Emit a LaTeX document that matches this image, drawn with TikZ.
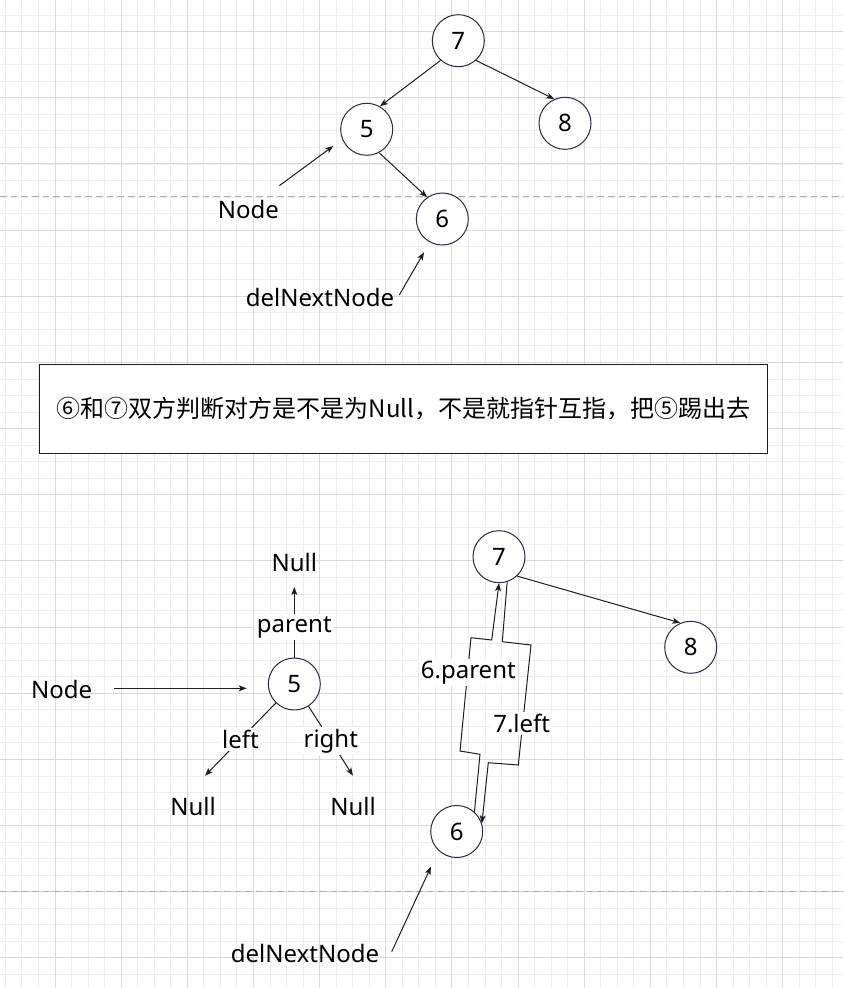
\documentclass[tikz,border=0pt]{standalone}
\usepackage{fontspec}
\setmainfont{Noto Sans}
\newfontfamily\cjkfont{Noto Sans CJK SC}
\usetikzlibrary{arrows.meta}
\definecolor{gminor}{RGB}{237,237,237}
\definecolor{gmajor}{RGB}{218,218,218}
\definecolor{circ}{RGB}{40,40,80}
\definecolor{lin}{RGB}{30,30,30}
\definecolor{dashc}{RGB}{175,175,175}
\tikzset{
 vtx/.style={circle, draw=circ, line width=0.75pt, minimum size=39pt, inner sep=0pt, fill=white, font=\fontsize{18pt}{22pt}\selectfont},
 txt/.style={inner sep=0pt, font=\fontsize{18pt}{22pt}\selectfont},
 nulltop/.style={txt, minimum height=36pt},
 nullbot/.style={txt, minimum height=45pt},
 lbl/.style={fill=white, inner sep=1.5pt, font=\fontsize{18pt}{22pt}\selectfont},
 arr/.style={draw=lin, line width=0.75pt, -{Stealth[length=6pt,width=4.5pt,inset=1.5pt]}},
 plainln/.style={draw=lin, line width=0.75pt},
 gridminor/.style={draw=gminor, line width=0.75pt},
 gridmajor/.style={draw=gmajor, line width=0.75pt},
 sep/.style={draw=dashc, line width=0.75pt, dash pattern=on 5pt off 3pt},
 infobox/.style={draw=lin, line width=0.75pt, fill=white, minimum width=546.3pt, minimum height=66.75pt, inner sep=0pt, font=\cjkfont\fontsize{18pt}{22pt}\selectfont},
}
\begin{document}
\begin{tikzpicture}[x=0.75pt,y=-0.75pt]
\useasboundingbox (0,0) rectangle (843,988);
\fill[white] (0,0) rectangle (843,988);
% grid
\foreach \i in {0,...,50} {\draw[gridminor] ({5.38+16.54*\i},0) -- ({5.38+16.54*\i},988);}
\foreach \i in {0,...,58} {\draw[gridminor] (0,{15.16+16.54*\i}) -- (843,{15.16+16.54*\i});}
\foreach \i in {0,...,11} {\draw[gridmajor] ({55+66.15*\i},0) -- ({55+66.15*\i},988);}
\foreach \i in {0,...,14} {\draw[gridmajor] (0,{31.7+66.15*\i}) -- (843,{31.7+66.15*\i});}
% separators
\draw[sep] (0,196) -- (843,196);
\draw[sep] (0,891) -- (843,891);

% ---------- top tree ----------
\node[vtx] (t7) at (458.3,40.7) {7};
\node[vtx] (t5) at (366.7,129.3) {5};
\node[vtx] (t8) at (565,123.3) {8};
\node[vtx] (t6) at (442.3,219) {6};
\draw[arr] (t7.-132) -- (t5.60);
\draw[arr] (t7.-48) -- (t8.114);
\draw[arr] (t5.-62) -- (t6.125);
\node[txt] (tNode) at (248.3,209.3) {Node};
\coordinate (tNodeA) at (279.3,185.7);
\coordinate (tNodeB) at (333.3,146);
\draw[arr] (tNodeA) -- (tNodeB);
\node[txt] (tDel) at (320,297.7) {delNextNode};
\coordinate (tDelA) at (399.3,295);
\coordinate (tDelB) at (424,252.3);
\draw[arr] (tDelA) -- (tDelB);

% ---------- info box ----------
\node[infobox] (box) at (403.5,408.8) {⑥和⑦双方判断对方是不是为Null，不是就指针互指，把⑤踢出去};

% ---------- lower left ----------
\node[vtx] (l5) at (294.3,684) {5};
\node[nulltop] (nT) at (294.3,562.7) {Null};
\node[nullbot] (nL) at (193,806) {Null};
\node[nullbot] (nR) at (353,806) {Null};
\draw[arr] (l5) -- node[lbl,pos=0.43] {parent} (nT.south);
\draw[arr] (l5) -- node[lbl,pos=0.5] {left} ([xshift=9pt]nL.north);
\draw[arr] (l5) -- node[lbl,pos=0.5] {right} (nR.north);
\node[txt] (lNode) at (61.7,689.3) {Node};
\coordinate (lNodeA) at (114.3,688.3);
\coordinate (lNodeB) at (246.7,688.3);
\draw[arr] (lNodeA) -- (lNodeB);

% ---------- lower right ----------
\node[vtx] (r7) at (499,556.7) {7};
\node[vtx] (r8) at (690.7,647.3) {8};
\node[vtx] (r6) at (456.7,831.5) {6};
\draw[arr] (r7.-47) -- (r8.113);
\draw[arr] (r6.48) -- (480,754.3) -- (460,751) -- (471,637.7) -- (491.7,640) -- (r7.south);
\draw[arr] (r7.-72) -- (502.3,641.7) -- (531,645) -- (518.3,765) -- (488.3,762.7) -- (r6.18);
\node[lbl] (pl) at (468.3,672.7) {6.parent};
\node[lbl] (ll) at (521.7,723.3) {7.left};
\node[txt] (rDel) at (305,953.3) {delNextNode};
\coordinate (rDelA) at (391.7,951.7);
\coordinate (rDelB) at (431,866.7);
\draw[arr] (rDelA) -- (rDelB);
\end{tikzpicture}
\end{document}
